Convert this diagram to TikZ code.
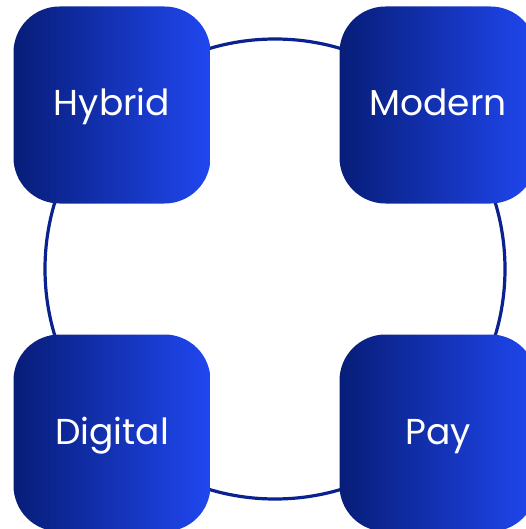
\documentclass[tikz,border=0pt]{standalone}
\usepackage{fontspec}
\setmainfont{Poppins}
\definecolor{ringblue}{HTML}{0A2290}
\definecolor{gradL}{HTML}{071D78}
\definecolor{gradR}{HTML}{2047F0}
\begin{document}
\begin{tikzpicture}[x=1pt,y=-1pt,
  card/.style={rounded corners=46pt, minimum width=197pt, minimum height=197pt,
    left color=gradL, right color=gradR, shading angle=90, text=white,
    font=\fontsize{36}{40}\selectfont, inner sep=0pt, text height=22pt, text depth=0pt},
  ring/.style={draw=ringblue, line width=3.2pt}]
\useasboundingbox (0,0) rectangle (526,529);
\clip (0,0) rectangle (526,529);
\node[ring, circle, minimum size=460pt, inner sep=0pt] (c) at (275,269) {};
\node[card] (hybrid) at (112,105) {Hybrid};
\node[card] (modern) at (438,105) {Modern};
\node[card] (digital) at (112,433) {Digital};
\node[card] (pay) at (438,433) {Pay};
\end{tikzpicture}
\end{document}
